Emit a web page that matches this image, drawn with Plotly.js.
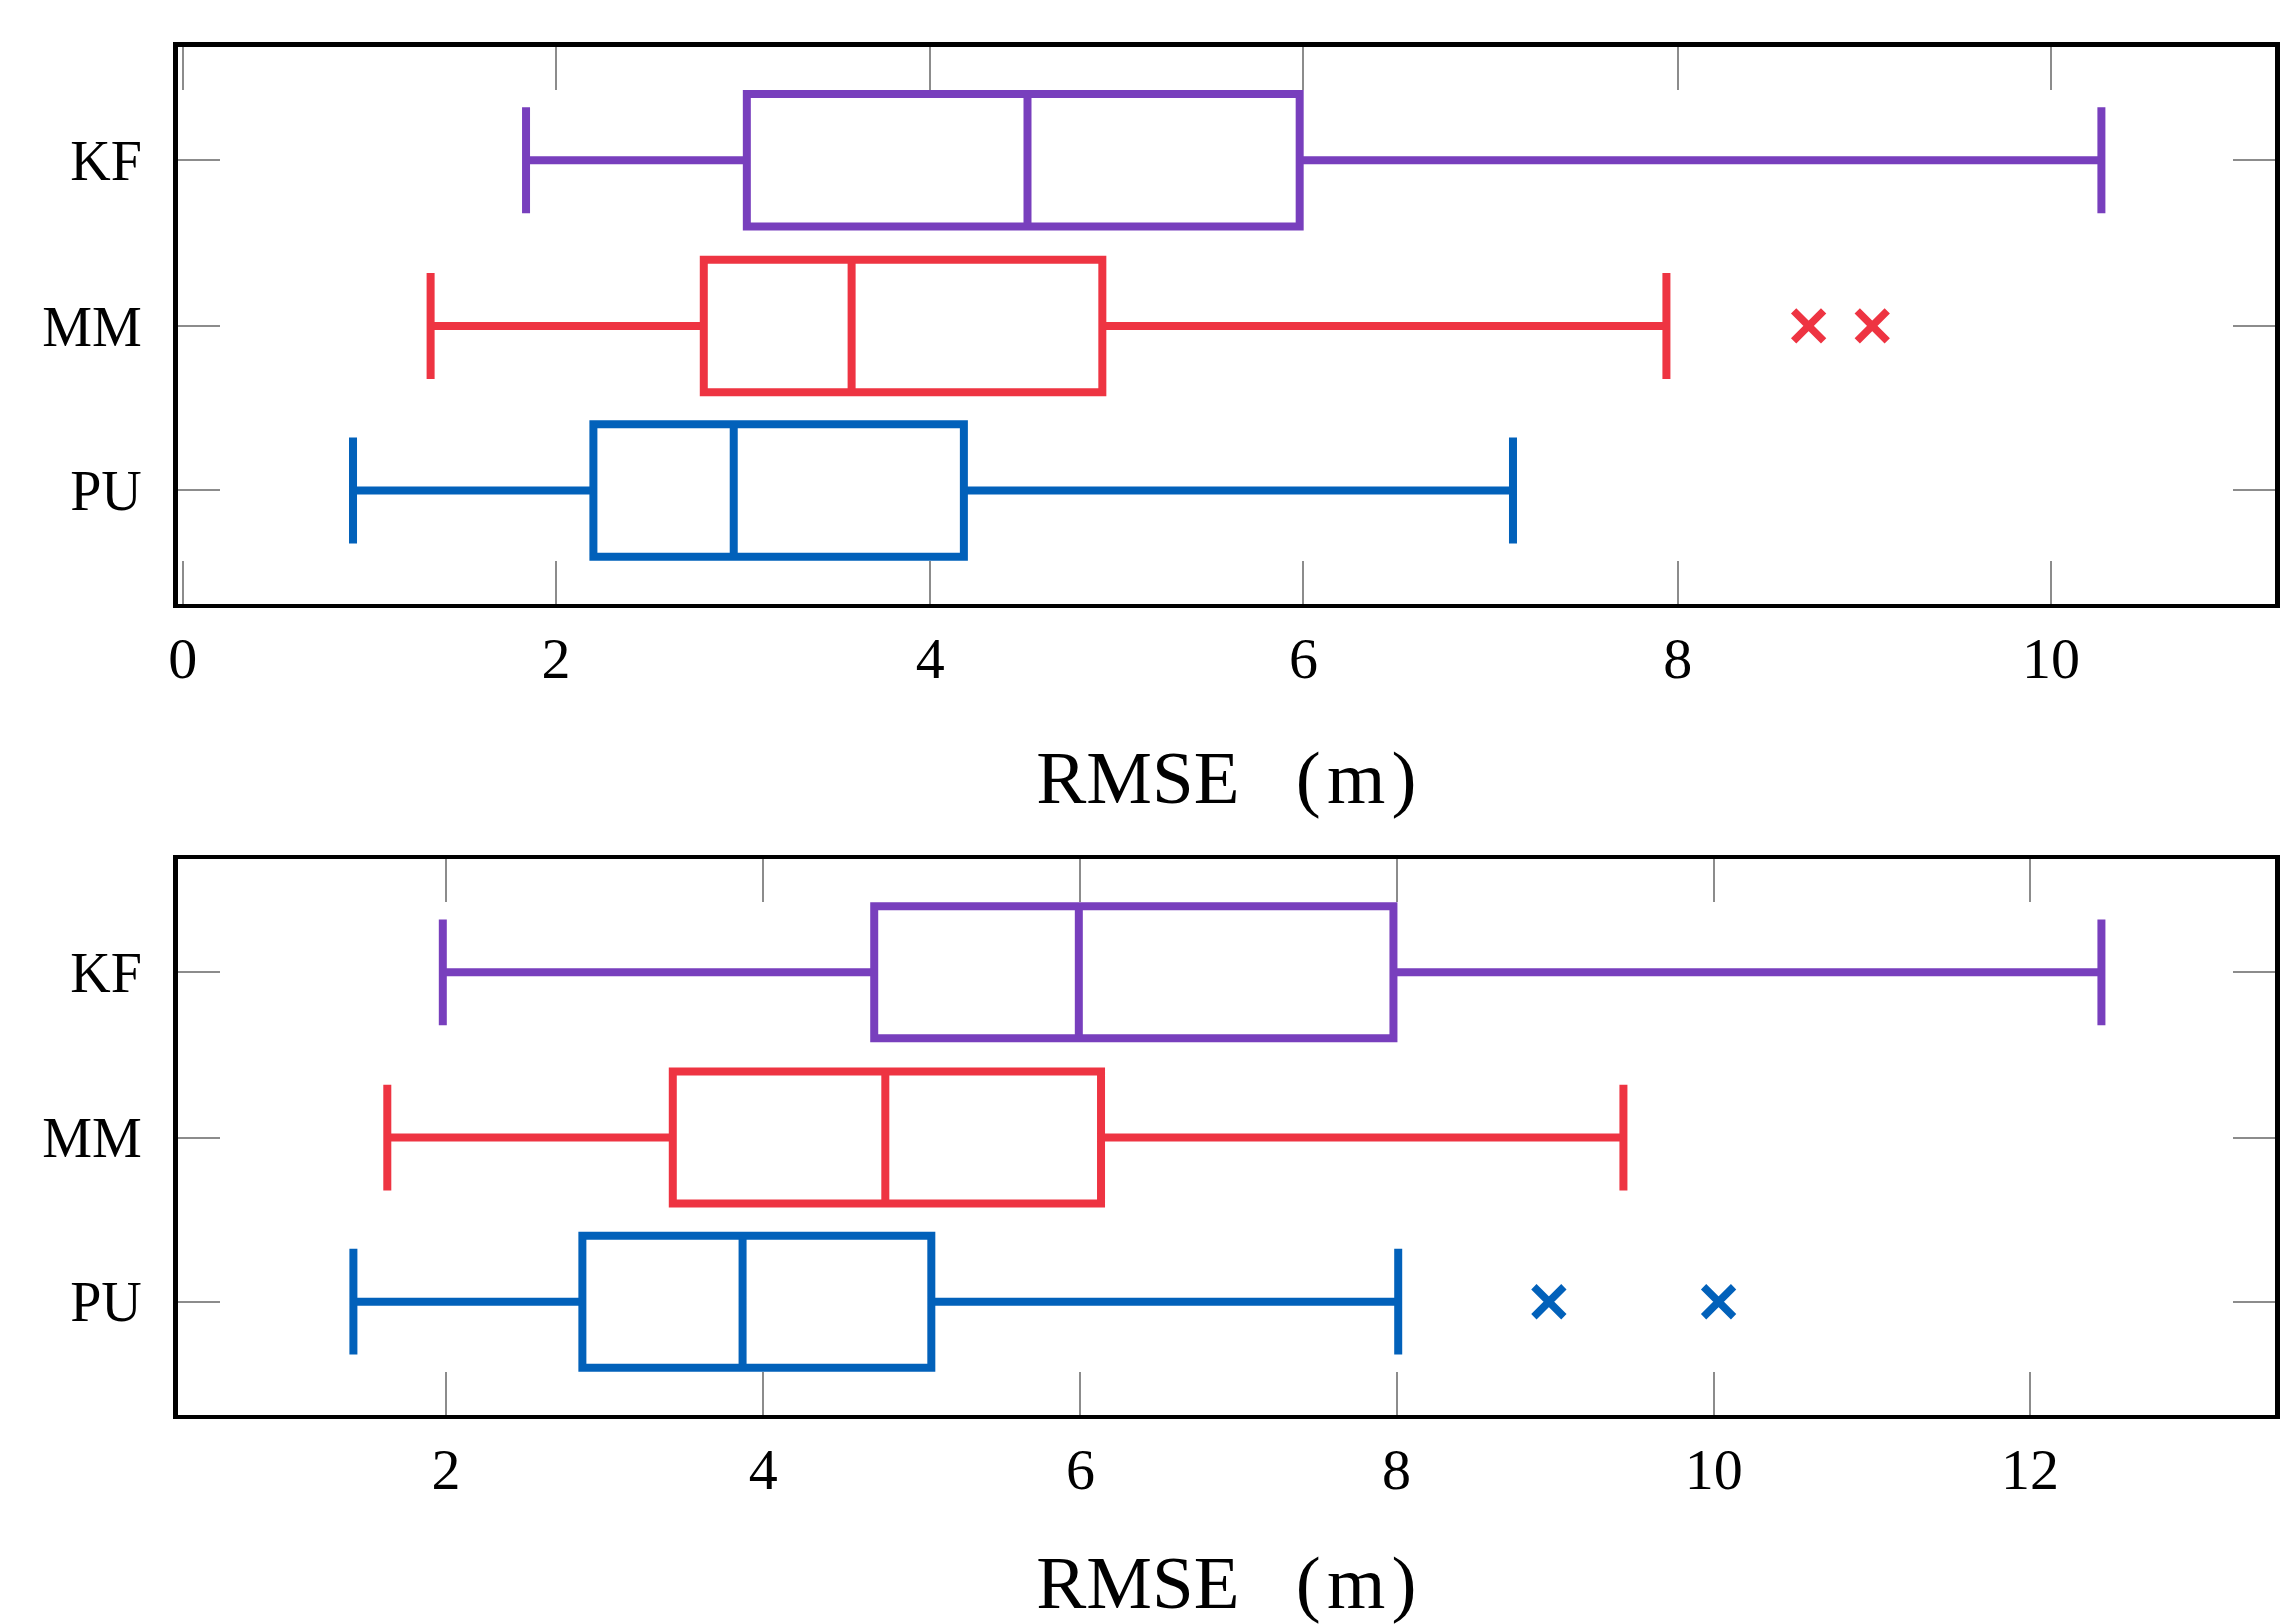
<!DOCTYPE html>
<html>
<head>
<meta charset="utf-8">
<script src="https://cdn.plot.ly/plotly-3.0.1.min.js"></script>
<style>html,body{margin:0;padding:0;background:#fff}#chart{width:2286px;height:1626px}</style>
</head>
<body>
<div id="chart"></div>
<script>
// Categories (top to bottom)
const cats = ['KF', 'MM', 'PU'];
const colors = ['#783FBD', '#EE3442', '#0261BA'];

// Upper panel statistics
const lowerA = [1.84, 1.33, 0.91];
const q1A = [3.02, 2.79, 2.20];
const medA = [4.52, 3.58, 2.95];
const q3A = [5.98, 4.92, 4.18];
const upperA = [10.27, 7.94, 7.12];
const outCatA = 'MM';
const outA = [8.70, 9.04];

// Lower panel statistics
const lowerB = [1.98, 1.63, 1.41];
const q1B = [4.70, 3.43, 2.86];
const medB = [5.99, 4.77, 3.87];
const q3B = [7.98, 6.13, 5.06];
const upperB = [12.45, 9.43, 8.01];
const outCatB = 'PU';
const outB = [8.96, 10.03];

const xTitle = 'RMSE\u00a0\u00a0\u00a0(\u200am\u200a)';

const traces = [];
function addPanel(lo, q1, med, q3, up, outCat, outVals, xa, ya) {
  cats.forEach((c, i) => {
    traces.push({
      type: 'box', orientation: 'h', xaxis: xa, yaxis: ya,
      y: [c], q1: [q1[i]], median: [med[i]], q3: [q3[i]],
      lowerfence: [lo[i]], upperfence: [up[i]],
      width: 0.8, whiskerwidth: 0.8,
      line: {color: colors[i], width: 8},
      fillcolor: 'rgba(255,255,255,0)',
      boxpoints: false, showlegend: false, hoverinfo: 'skip'
    });
  });
  const ci = cats.indexOf(outCat);
  traces.push({
    type: 'scatter', mode: 'markers', xaxis: xa, yaxis: ya,
    x: outVals, y: outVals.map(() => outCat),
    marker: {symbol: 'x-thin', size: 30, color: colors[ci], line: {color: colors[ci], width: 7.5}},
    showlegend: false, hoverinfo: 'skip'
  });
}
addPanel(lowerA, q1A, medA, q3A, upperA, outCatA, outA, 'x', 'y');
addPanel(lowerB, q1B, medB, q3B, upperB, outCatB, outB, 'x2', 'y2');

const font = 'Liberation Serif, Times New Roman, serif';
function xaxis(range, anchor) {
  return {
    domain: [0.07765, 0.99668], anchor: anchor, range: range,
    tick0: 0, dtick: 2, ticks: 'inside', ticklen: 43, tickwidth: 2, tickcolor: '#8c8c8c',
    showline: true, linecolor: '#000', linewidth: 4.5, mirror: 'ticks',
    showgrid: false, zeroline: false, automargin: false,
    tickfont: {family: font, size: 58, color: '#000'}, ticklabelstandoff: 0,
    title: {text: xTitle, font: {family: font, size: 75, color: '#000'}, standoff: 62}
  };
}
function yaxis(dom, anchor) {
  return {
    domain: dom, anchor: anchor, type: 'category',
    categoryorder: 'array', categoryarray: ['PU', 'MM', 'KF'],
    range: [-0.685, 2.685],
    ticks: 'inside', ticklen: 42, tickwidth: 2, tickcolor: '#8c8c8c',
    showline: true, linecolor: '#000', linewidth: 4.5, mirror: 'ticks',
    showgrid: false, zeroline: false, automargin: false,
    tickfont: {family: font, size: 56, color: '#000'}, ticklabelstandoff: 20
  };
}

const layout = {
  width: 2286, height: 1626,
  margin: {l: 0, r: 0, t: 0, b: 0},
  paper_bgcolor: '#fff', plot_bgcolor: '#fff',
  showlegend: false, boxmode: 'overlay',
  xaxis: xaxis([-0.028, 11.20], 'y'),
  yaxis: yaxis([0.62798, 0.97116], 'x'),
  xaxis2: xaxis([0.301, 13.547], 'y2'),
  yaxis2: yaxis([0.12860, 0.47103], 'x2')
};

Plotly.newPlot('chart', traces, layout, {staticPlot: true, displayModeBar: false});
</script>
</body>
</html>
